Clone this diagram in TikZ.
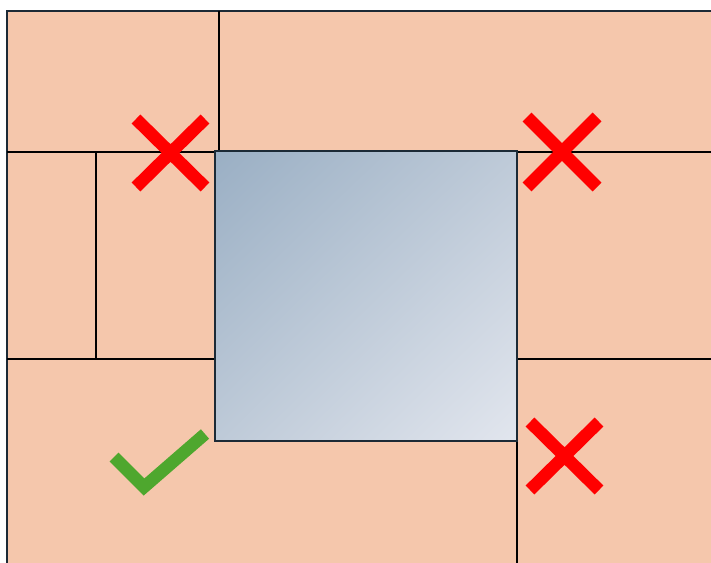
\documentclass[tikz,border=0pt]{standalone}
\usetikzlibrary{shadings}
\definecolor{peach}{HTML}{F5C7AC}
\definecolor{edge}{HTML}{1C2A36}
\definecolor{boxA}{HTML}{9AAFC4}
\definecolor{boxB}{HTML}{E2E6EE}
\definecolor{boxM}{HTML}{BECAD8}
\definecolor{xred}{HTML}{FF0000}
\definecolor{okgreen}{HTML}{4EA72E}
\tikzset{
  wall/.style={draw=black, line width=1.5pt},
  crossmark/.style={draw=xred, line width=12.5pt},
  tickmark/.style={draw=okgreen, line width=12.5pt},
}
\begin{document}
\begin{tikzpicture}[x=1pt,y=-1pt]
\useasboundingbox (0,0) rectangle (711,562);
\begin{scope}
\clip (0,0) rectangle (711,562);
\fill[white] (0,0) rectangle (711,562);
\fill[peach] (7,11) rectangle (720,570);
\draw[draw=edge, line width=2pt] (7,570) -- (7,11) -- (720,11);
% internal walls
\draw[wall] (219,11) -- (219,152);
\draw[wall] (7,152) -- (215,152);
\draw[wall] (517,152) -- (720,152);
\draw[wall] (96,152) -- (96,359);
\draw[wall] (7,359) -- (215,359);
\draw[wall] (517,359) -- (720,359);
\draw[wall] (517,441) -- (517,570);
% central box
\shade[upper left=boxA, lower right=boxB, upper right=boxM, lower left=boxM] (215,151) rectangle (517,441);
\draw[draw=edge, line width=1.5pt] (215,151) rectangle (517,441);
% marks
\draw[crossmark] (136,119) -- (205,187) (136,187) -- (205,119);
\draw[crossmark] (527,117) -- (597,187) (527,187) -- (597,117);
\draw[crossmark] (530,422) -- (599,490) (530,490) -- (599,422);
\draw[tickmark, line join=miter] (114,457) -- (144,487) -- (205,434);
\end{scope}
\end{tikzpicture}
\end{document}
